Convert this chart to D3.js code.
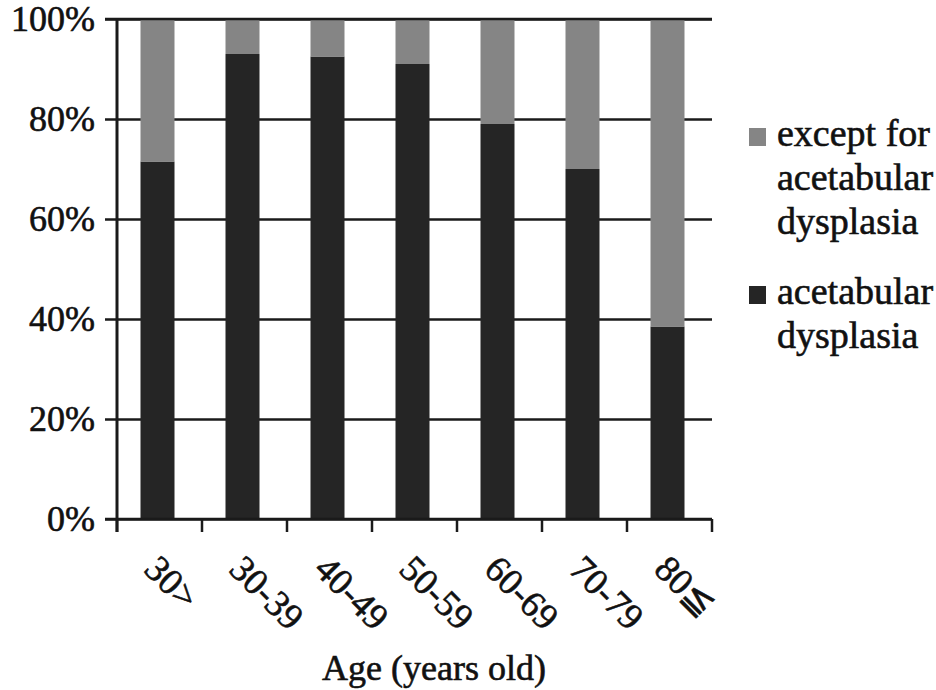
<!DOCTYPE html>
<html>
<head>
<meta charset="utf-8">
<script src="https://cdn.jsdelivr.net/npm/d3@7"></script>
<style>
  html, body { margin: 0; padding: 0; background: #fff; }
  svg text { font-family: "Liberation Serif", "Times New Roman", serif; fill: #111; }
</style>
</head>
<body>
<svg id="chart" width="936" height="690"></svg>
<script>
// Age groups (x axis)
const categories = ["30>", "30-39", "40-49", "50-59", "60-69", "70-79", "80\u2266"];
// Share of hips with acetabular dysplasia, in percent
const dysplasia = [71.5, 93, 92.5, 91, 79, 70, 38.5];
// Share of hips with other causes, in percent
const otherCauses = dysplasia.map(v => 100 - v);
// Y axis tick values (percent)
const yTicks = [0, 20, 40, 60, 80, 100];
// Legend entries, top to bottom
const legendLabels = [["except for", "acetabular", "dysplasia"], ["acetabular", "dysplasia"]];

const colors = { other: "#858585", dysplasia: "#252525", line: "#1a1a1a" };

const svg = d3.select("#chart");
const plotLeft = 117, plotRight = 712, plotTop = 19, plotBottom = 519;

const x = d3.scaleBand().domain(categories).range([plotLeft, plotRight])
  .paddingInner(0.6).paddingOuter(0.3);
const y = d3.scaleLinear().domain([0, 100]).range([plotBottom, plotTop]);

// Gridlines + y tick labels (gridlines run from the tick stub across the plot)
const yAxis = svg.append("g")
  .attr("transform", `translate(${plotRight},0)`)
  .call(d3.axisLeft(y).tickValues(yTicks).tickSize(plotRight - plotLeft + 12)
    .tickPadding(10).tickFormat(d => d + "%"));
yAxis.select(".domain").remove();
yAxis.selectAll("line").attr("stroke", colors.line).attr("stroke-width", 2.5);
yAxis.selectAll("text").attr("font-size", 36).attr("fill", "#111")
  .attr("font-family", "Liberation Serif").attr("stroke", "#111").attr("stroke-width", 0.6);

// Stacked bars
const rows = categories.map((c, i) => ({ cat: c, dys: dysplasia[i], other: otherCauses[i] }));
const stack = d3.stack().keys(["dys", "other"])(rows);
const fills = { dys: colors.dysplasia, other: colors.other };
svg.append("g").selectAll("g").data(stack).join("g")
  .attr("fill", d => fills[d.key])
  .selectAll("rect").data(d => d).join("rect")
  .attr("x", d => x(d.data.cat) - 2)
  .attr("width", x.bandwidth())
  .attr("y", d => y(d[1]))
  .attr("height", d => y(d[0]) - y(d[1]));

// Redraw top and bottom rules over the bars
svg.append("g").selectAll("line").data([0, 100]).join("line")
  .attr("x1", plotLeft - 12).attr("x2", plotRight)
  .attr("y1", d => y(d)).attr("y2", d => y(d))
  .attr("stroke", colors.line).attr("stroke-width", 2.5);

// Vertical y axis line
svg.append("line")
  .attr("x1", plotLeft).attr("x2", plotLeft).attr("y1", y(100)).attr("y2", y(0) + 13)
  .attr("stroke", colors.line).attr("stroke-width", 3);

// Category boundary ticks on the x axis
const boundaries = d3.range(categories.length + 1).map(i => plotLeft + i * x.step());
svg.append("g").selectAll("line").data(boundaries).join("line")
  .attr("x1", d => d).attr("x2", d => d)
  .attr("y1", y(0)).attr("y2", y(0) + 13)
  .attr("stroke", colors.line).attr("stroke-width", 2.5);

// Rotated category labels
svg.append("g").selectAll("text").data(categories).join("text")
  .attr("transform", d => `translate(${x(d) + x.bandwidth() / 2 - 17},${plotBottom + 52}) rotate(45)`)
  .attr("font-size", 37).attr("stroke", "#111").attr("stroke-width", 0.6)
  .text(d => d);

// Axis title
svg.append("text")
  .attr("x", 434).attr("y", 680)
  .attr("text-anchor", "middle").attr("font-size", 36)
  .attr("stroke", "#111").attr("stroke-width", 0.6)
  .text("Age (years old)");

// Legend
const legendKeys = ["other", "dys"];
const legendBase = [146, 304];
const legend = svg.append("g");
legendKeys.forEach((k, i) => {
  legend.append("rect")
    .attr("x", 749).attr("y", legendBase[i] - 18).attr("width", 17).attr("height", 18)
    .attr("fill", fills[k]);
  legend.append("g").selectAll("text").data(legendLabels[i]).join("text")
    .attr("x", 777).attr("y", (d, j) => legendBase[i] + j * 44)
    .attr("font-size", 38).attr("stroke", "#111").attr("stroke-width", 0.6)
    .text(d => d);
});
</script>
</body>
</html>
